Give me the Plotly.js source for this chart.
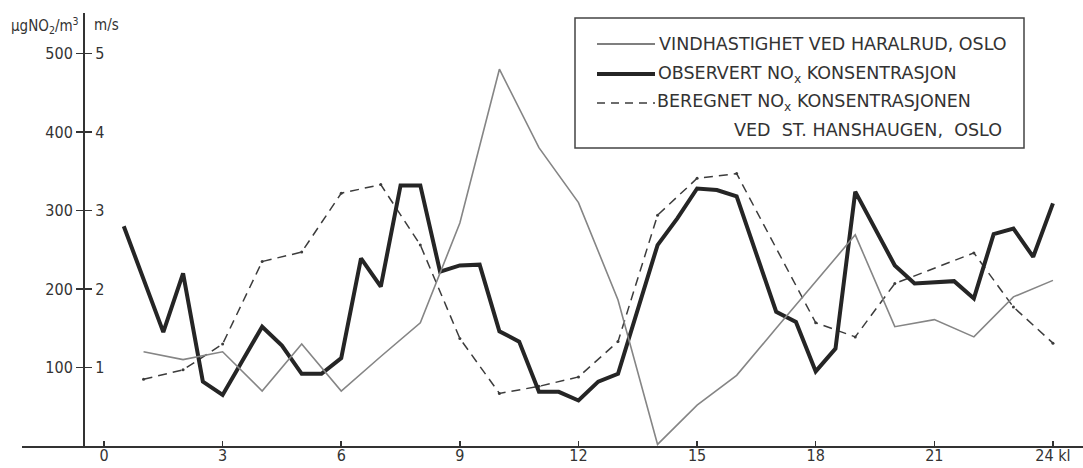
<!DOCTYPE html>
<html>
<head>
<meta charset="utf-8">
<script src="https://cdn.plot.ly/plotly-3.0.1.min.js"></script>
<style>html,body{margin:0;padding:0;background:#fff;}#chart{width:1083px;height:468px;}</style>
</head>
<body>
<div id="chart"></div>
<script>
// ---- data ----
const xTickVals = [0, 3, 6, 9, 12, 15, 18, 21, 24];
const xTickText = ["0", "3", "6", "9", "12", "15", "18", "21", "24 kl"];
const yTickVals = [100, 200, 300, 400, 500];
const yTickText = ["100", "200", "300", "400", "500"];
const y2TickVals = [1, 2, 3, 4, 5];
const y2TickText = ["1", "2", "3", "4", "5"];

// wind speed at Haralrud (m/s)
const windHours = [1,2,3,4,5,6,7,8,9,10,11,12,13,14,15,16,17,18,19,20,21,22,23,24];
const windSpeed = [1.2,1.1,1.2,0.7,1.3,0.7,1.14,1.57,2.84,4.8,3.8,3.1,1.86,0.02,0.52,0.9,1.5,2.1,2.69,1.52,1.61,1.39,1.9,2.11];

// observed NOx concentration (µg/m3)
const obsHours = [0.5,1.5,2,2.5,3,4,4.5,5,5.5,6,6.5,7,7.5,8,8.5,9,9.5,10,10.5,11,11.5,12,12.5,13,14,14.5,15,15.5,16,17,17.5,18,18.5,19,20,20.5,21.5,22,22.5,23,23.5,24];
const obsNOx = [280,145,220,82,65,152,128,92,92,112,239,203,332,332,222,230,231,146,133,69,69,58,82,92,256,290,328,326,318,171,158,95,124,324,230,207,210,188,270,277,241,309];

// calculated NOx concentration at St. Hanshaugen (µg/m3)
const calcHours = [1,2,3,4,5,6,7,8,9,10,11,12,13,14,15,16,18,19,20,22,23,24];
const calcNOx = [85,97,130,235,247,322,333,256,137,67,76,88,133,294,341,347,157,139,207,246,177,131];

const legendLabels = [
  "VINDHASTIGHET VED HARALRUD, OSLO",
  "OBSERVERT NO<sub>x</sub> KONSENTRASJON",
  "BEREGNET NO<sub>x</sub> KONSENTRASJONEN",
  "VED  ST. HANSHAUGEN,  OSLO"
];

// ---- layout helpers (pixel -> paper) ----
const L = 22, T = 13, B = 22, W = 1083, H = 468;
const PW = W - L, PH = H - T - B;
const px = v => (v - L) / PW;
const py = v => (H - B - v) / PH;
const FONT = "DejaVu Sans Condensed, DejaVu Sans, sans-serif";
const LFONT = "DejaVu Sans, sans-serif";
const INK = "#333333";

const traces = [
  {x: windHours, y: windSpeed, yaxis: "y2", mode: "lines", line: {color: "#858585", width: 1.6}, showlegend: false, hoverinfo: "skip"},
  {x: calcHours, y: calcNOx, mode: "lines+markers", line: {color: "#3c3c3c", width: 1.5, dash: "9px,6px"}, marker: {size: 3, color: "#3c3c3c"}, showlegend: false, hoverinfo: "skip"},
  {x: obsHours, y: obsNOx, mode: "lines", line: {color: "#252525", width: 4}, showlegend: false, hoverinfo: "skip"}
];

const yTop = (H - B - T) / 0.785; // 100 units = 78.5 px
const axisPos = px(84);

const shapes = [
  {type: "rect", xref: "paper", yref: "paper", x0: px(575), x1: px(1024), y0: py(148), y1: py(18), line: {color: "#444", width: 1.5}, fillcolor: "rgba(255,255,255,0)", layer: "above"},
  {type: "line", xref: "paper", yref: "paper", x0: px(597), x1: px(655), y0: py(44), y1: py(44), line: {color: "#555", width: 1.3}},
  {type: "line", xref: "paper", yref: "paper", x0: px(597), x1: px(655), y0: py(74), y1: py(74), line: {color: "#252525", width: 4}},
  {type: "line", xref: "paper", yref: "paper", x0: px(597), x1: px(655), y0: py(103), y1: py(103), line: {color: "#3c3c3c", width: 1.5, dash: "8px,6px"}}
];

const legFont = {family: LFONT, size: 17.5, color: INK};
const annotations = [
  {xref: "paper", yref: "paper", x: px(657), y: py(44), text: legendLabels[0], showarrow: false, xanchor: "left", yanchor: "middle", font: legFont},
  {xref: "paper", yref: "paper", x: px(656), y: py(74), text: legendLabels[1], showarrow: false, xanchor: "left", yanchor: "middle", font: legFont},
  {xref: "paper", yref: "paper", x: px(655), y: py(103), text: legendLabels[2], showarrow: false, xanchor: "left", yanchor: "middle", font: legFont},
  {xref: "paper", yref: "paper", x: px(1004), y: py(130), text: legendLabels[3], showarrow: false, xanchor: "right", yanchor: "middle", font: legFont},
  {xref: "paper", yref: "paper", x: px(9), y: py(25), text: "µgNO<sub>2</sub>/m<sup>3</sup>", showarrow: false, xanchor: "left", yanchor: "middle", font: {family: FONT, size: 15, color: INK}},
  {xref: "paper", yref: "paper", x: px(92), y: py(25), text: "m/s", showarrow: false, xanchor: "left", yanchor: "middle", font: {family: FONT, size: 15, color: INK}}
];

const layout = {
  width: W, height: H,
  margin: {l: L, r: 0, t: T, b: B, pad: 0},
  paper_bgcolor: "#ffffff", plot_bgcolor: "#ffffff",
  showlegend: false,
  xaxis: {
    range: [(L - 104) / 39.54, (W - 104) / 39.54],
    tickvals: xTickVals, ticktext: xTickText,
    ticks: "inside", ticklen: 5, tickwidth: 1.5, tickcolor: INK,
    showline: true, linecolor: INK, linewidth: 2,
    showgrid: false, zeroline: false,
    ticklabelstandoff: -6,
    tickfont: {family: FONT, size: 16, color: INK}
  },
  yaxis: {
    range: [0, yTop], anchor: "free", position: axisPos, side: "left",
    tickvals: yTickVals, ticktext: yTickText,
    ticks: "outside", ticklen: 7, tickwidth: 1.5, tickcolor: INK,
    showline: true, linecolor: INK, linewidth: 2,
    showgrid: false, zeroline: false,
    tickfont: {family: FONT, size: 16, color: INK}
  },
  yaxis2: {
    range: [0, yTop / 100], overlaying: "y", anchor: "free", position: axisPos, side: "right",
    tickvals: y2TickVals, ticktext: y2TickText,
    ticks: "outside", ticklen: 7, tickwidth: 1.5, tickcolor: INK,
    showline: false, showgrid: false, zeroline: false,
    tickfont: {family: FONT, size: 16, color: INK}
  },
  shapes: shapes,
  annotations: annotations
};

Plotly.newPlot("chart", traces, layout, {staticPlot: true, displayModeBar: false});
</script>
</body>
</html>
